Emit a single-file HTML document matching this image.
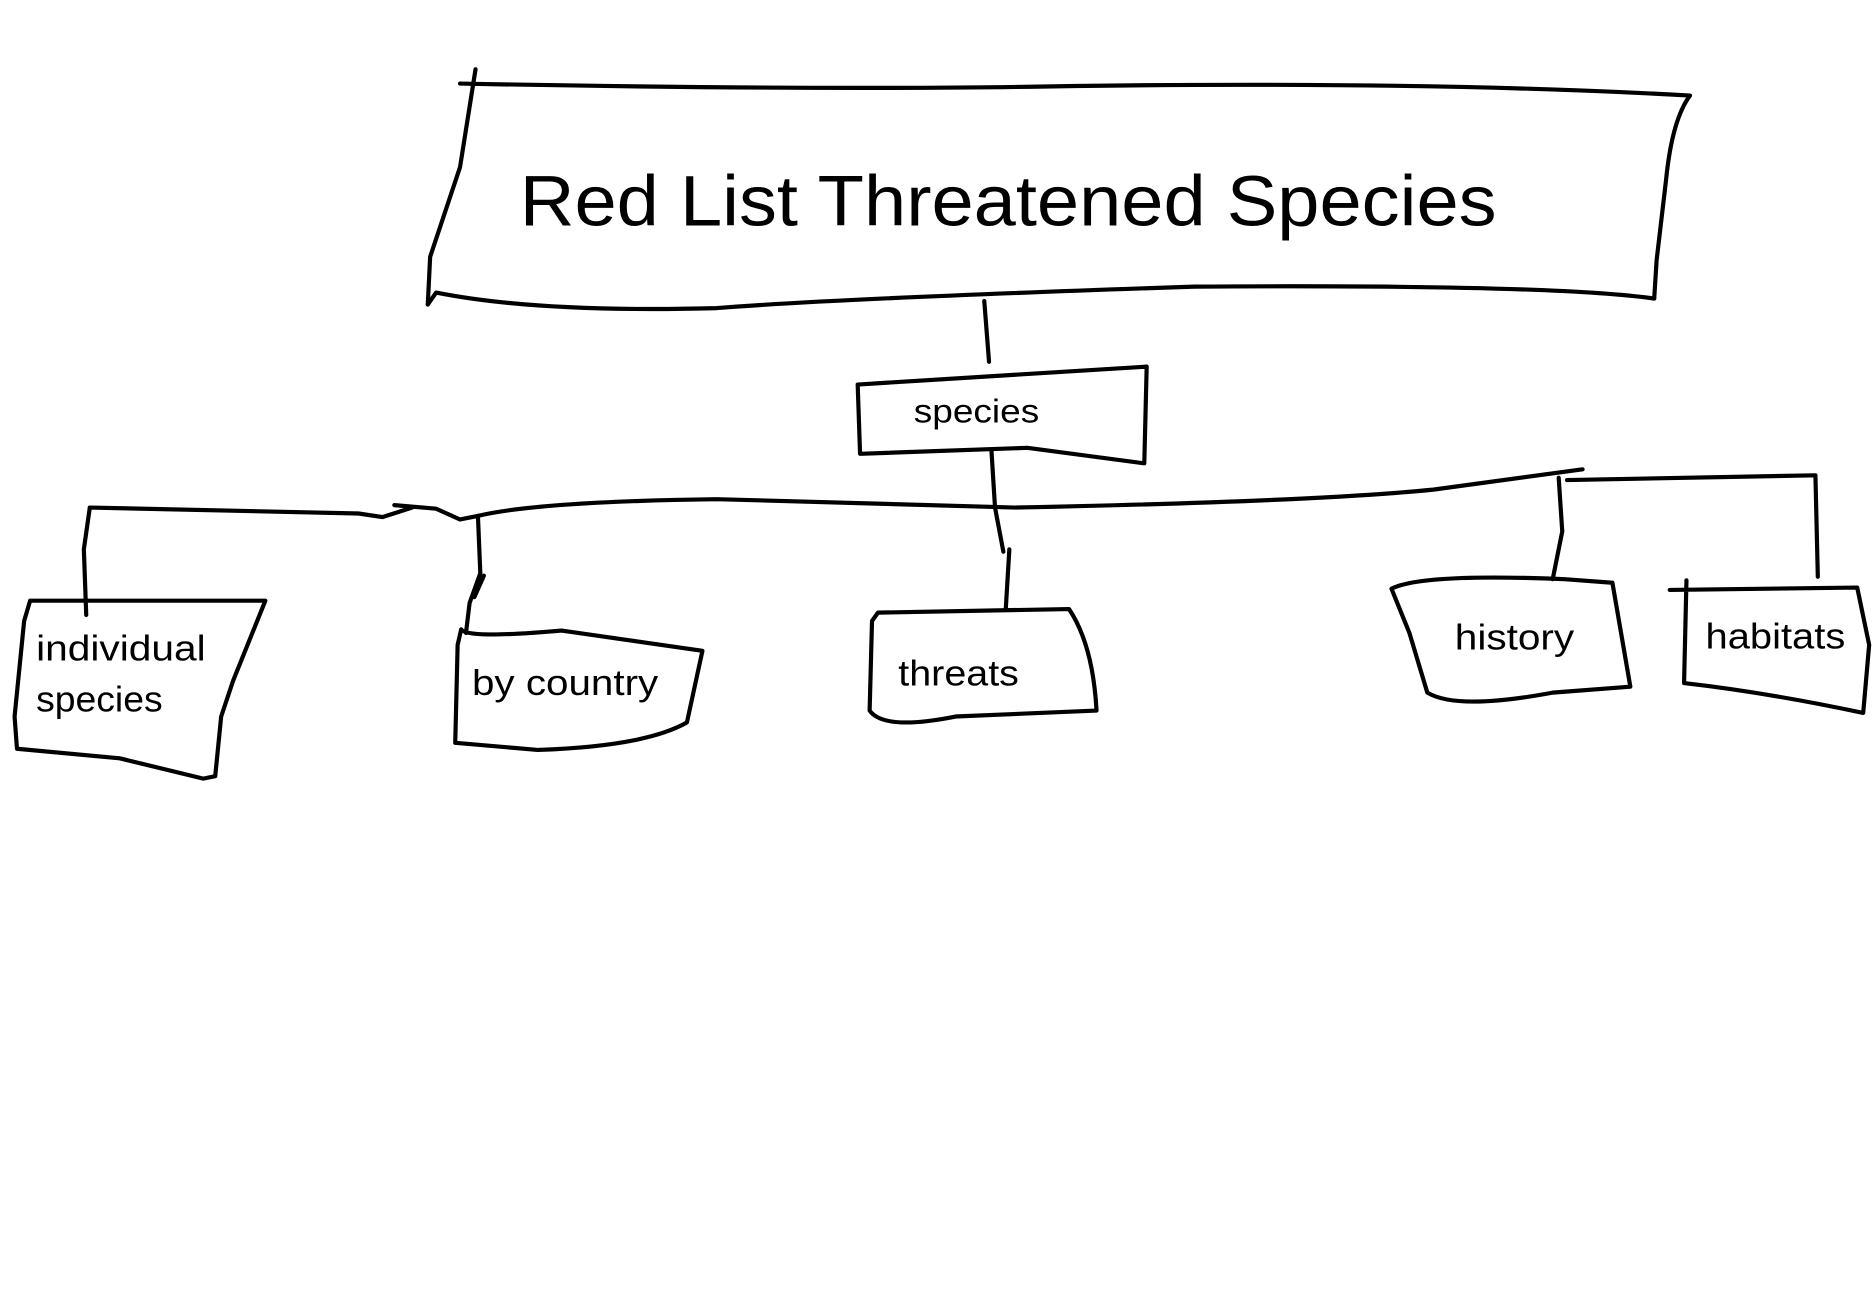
<!DOCTYPE html>
<html><head><meta charset="utf-8"><style>
html,body{margin:0;padding:0;background:#fff;}
svg{display:block;}
text{font-family:"Liberation Sans",sans-serif;fill:#000;}
</style></head><body>
<svg width="1873" height="1316" viewBox="0 0 1568 1102" xmlns="http://www.w3.org/2000/svg">
<g fill="none" stroke="#000" stroke-width="3.5" stroke-linecap="round" stroke-linejoin="round">
<!-- title box -->
<path d="M385,70 Q700,76 900,72 Q1200,68 1415,80 Q1400,100 1395,150 L1387,218 L1385,250"/>
<path d="M1385,250 Q1300,238 1000,240 Q700,250 600,258 Q450,262 365,245 L358,255"/>
<path d="M358,255 L360,215 L385,140 L398,58"/>
<!-- title to species -->
<path d="M824,252 L828,303"/>
<!-- species box -->
<path d="M718,322 L960,307 L958,388 L860,375 L720,380 Z"/>
<!-- species down to threats -->
<path d="M830,377 L833,425 L840,462 M845,460 L842,510"/>
<!-- horizontal line -->
<path d="M75,425 L300,430 L320,433 L345,425"/>
<path d="M330,423 L365,426 L385,435 L400,432 Q450,420 600,418 L850,425 Q1100,420 1200,410 L1325,393"/>
<!-- individual -->
<path d="M75,425 L70,460 L72,515"/>
<path d="M25,503 L222,503 L195,570 L185,600 L180,650 L170,652 L100,635 L14,627 L12,600 L20,520 Z"/>
<!-- by country -->
<path d="M400,432 L402,480 L393,505 L390,530 M405,482 L397,500"/>
<path d="M386,527 Q390,535 470,528 L588,545 L575,605 Q540,625 450,628 L381,622 L383,540 Z"/>
<!-- threats -->
<path d="M735,513 L895,510 Q915,540 918,595 L800,600 Q740,612 728,595 L730,520 Z"/>
<!-- history -->
<path d="M1305,400 L1308,445 L1300,485"/>
<path d="M1165,493 Q1190,480 1310,485 L1350,488 L1365,575 L1300,580 Q1220,595 1195,580 L1180,530 Z"/>
<!-- habitats -->
<path d="M1312,402 L1520,398 L1522,483"/>
<path d="M1398,494 L1555,492 L1565,540 L1560,597 Q1480,580 1410,572 L1412,486"/>
</g>
<text x="435" y="189" font-size="60" textLength="818" lengthAdjust="spacingAndGlyphs">Red List Threatened Species</text>
<text x="765" y="354" font-size="28" textLength="105" lengthAdjust="spacingAndGlyphs">species</text>
<text x="30" y="553" font-size="30" textLength="142" lengthAdjust="spacingAndGlyphs">individual</text>
<text x="30" y="596" font-size="30" textLength="106" lengthAdjust="spacingAndGlyphs">species</text>
<text x="395" y="582" font-size="30" textLength="156" lengthAdjust="spacingAndGlyphs">by country</text>
<text x="752" y="574" font-size="30" textLength="101" lengthAdjust="spacingAndGlyphs">threats</text>
<text x="1218" y="544" font-size="30" textLength="100" lengthAdjust="spacingAndGlyphs">history</text>
<text x="1428" y="543" font-size="30" textLength="117" lengthAdjust="spacingAndGlyphs">habitats</text>
</svg>
</body></html>
